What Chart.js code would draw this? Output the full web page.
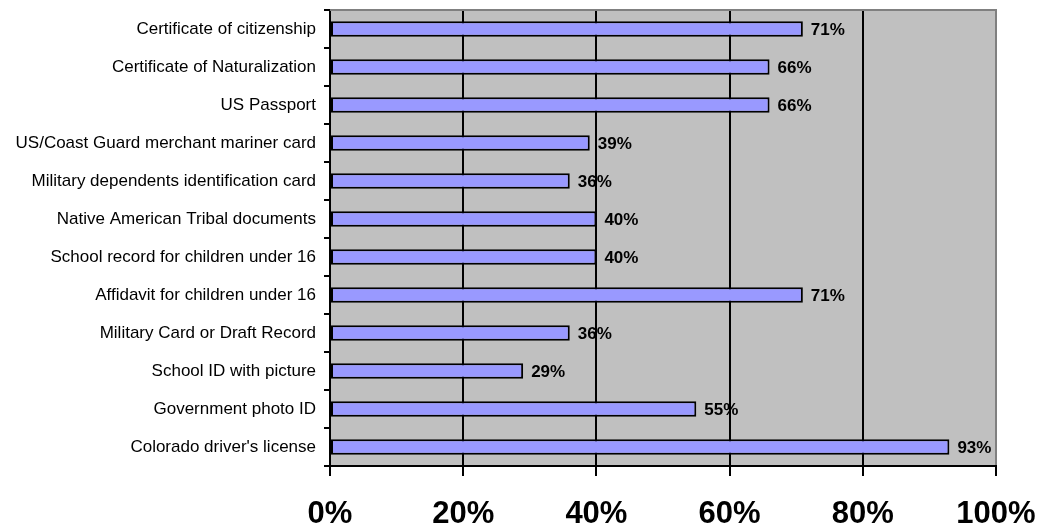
<!DOCTYPE html>
<html>
<head>
<meta charset="utf-8">
<script src="https://cdn.jsdelivr.net/npm/chart.js@4/dist/chart.umd.min.js"></script>
<style>
  html, body { margin: 0; padding: 0; background: #fff; }
  #wrap { width: 1048px; height: 527px; }
</style>
</head>
<body>
<div id="wrap"><canvas id="c" width="1048" height="527"></canvas></div>
<script>
// Accepted identification documents, share of respondents (%)
const categories = [
  "Certificate of citizenship",
  "Certificate of Naturalization",
  "US Passport",
  "US/Coast Guard merchant mariner card",
  "Military dependents identification card",
  "Native American Tribal documents",
  "School record for children under 16",
  "Affidavit for children under 16",
  "Military Card or Draft Record",
  "School ID with picture",
  "Government photo ID",
  "Colorado driver's license"
];
const percentValues = [71, 66, 66, 39, 36, 40, 40, 71, 36, 29, 55, 93];
const axisTicks = [0, 20, 40, 60, 80, 100];

const FONT = "'Liberation Sans', Arial, Helvetica, sans-serif";

// Grey plot background plus the grey frame line along the top
const plotFrame = {
  id: 'plotFrame',
  beforeDraw(chart) {
    const { ctx, chartArea: a } = chart;
    ctx.save();
    ctx.fillStyle = '#C0C0C0';
    ctx.fillRect(a.left, a.top, a.right - a.left, a.bottom - a.top);
    ctx.restore();
  },
  afterDraw(chart) {
    const { ctx, chartArea: a } = chart;
    ctx.save();
    ctx.strokeStyle = '#808080';
    ctx.lineWidth = 2;
    ctx.beginPath();
    ctx.moveTo(a.left, a.top);
    ctx.lineTo(a.right + 1, a.top);
    ctx.stroke();
    ctx.restore();
  }
};

// Value labels just past the end of each bar
const valueLabels = {
  id: 'valueLabels',
  afterDatasetsDraw(chart) {
    const { ctx } = chart;
    const meta = chart.getDatasetMeta(0);
    const data = chart.data.datasets[0].data;
    ctx.save();
    ctx.font = "bold 17px " + FONT;
    ctx.fillStyle = '#000';
    ctx.textAlign = 'left';
    ctx.textBaseline = 'middle';
    meta.data.forEach((bar, i) => {
      ctx.fillText(data[i] + '%', bar.x + 8, bar.y + 1);
    });
    ctx.restore();
  }
};

new Chart(document.getElementById('c'), {
  type: 'bar',
  data: {
    labels: categories,
    datasets: [{
      data: percentValues,
      backgroundColor: '#9999FF',
      borderColor: '#000000',
      borderWidth: 2,
      borderSkipped: false,
      categoryPercentage: 1,
      barPercentage: 0.41
    }]
  },
  options: {
    indexAxis: 'y',
    responsive: false,
    animation: false,
    layout: { padding: { left: 0, top: 10, right: 52, bottom: 0 } },
    plugins: {
      legend: { display: false },
      tooltip: { enabled: false }
    },
    scales: {
      x: {
        type: 'linear',
        min: 0,
        max: 100,
        afterBuildTicks(scale) {
          scale.ticks = axisTicks.map(v => ({ value: v }));
        },
        afterFit(scale) {
          scale.height = 61;
          scale.paddingLeft = 0;
          scale.paddingRight = 0;
        },
        ticks: {
          color: '#000',
          padding: 20,
          maxRotation: 0,
          font: { family: FONT, size: 31, weight: 'bold' },
          callback: v => v + '%'
        },
        grid: {
          color: ctx => (ctx.tick && ctx.tick.value === 100) ? '#808080' : '#000000',
          tickColor: '#000000',
          lineWidth: 2,
          tickLength: 10
        },
        border: { color: '#000000', width: 2 }
      },
      y: {
        afterFit(scale) {
          scale.width = 330;
          scale.paddingTop = 0;
          scale.paddingBottom = 0;
        },
        ticks: {
          color: '#000',
          padding: 8,
          font: { family: FONT, size: 17 }
        },
        grid: {
          offset: true,
          drawOnChartArea: false,
          color: '#000000',
          lineWidth: 2,
          tickLength: 6
        },
        border: { color: '#000000', width: 2 }
      }
    }
  },
  plugins: [plotFrame, valueLabels]
});
</script>
</body>
</html>
